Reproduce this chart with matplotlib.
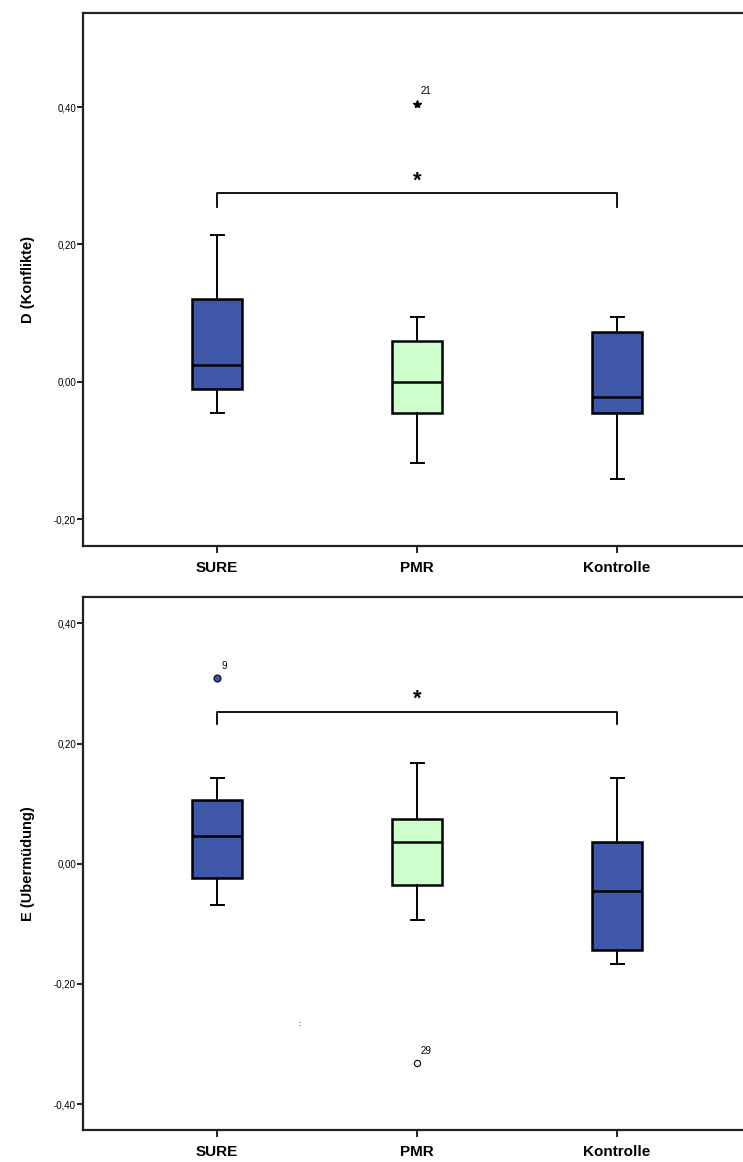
"""
Boxplots D (Konflikte) und E (Übermüdung) für SURE / PMR / Kontrolle.
"""
import matplotlib
matplotlib.use("Agg")
import matplotlib.pyplot as plt
from matplotlib.ticker import FuncFormatter

plt.rcParams.update({"font.family": ["Liberation Sans", "DejaVu Sans"]})

groups = ["SURE", "PMR", "Kontrolle"]
colors = ["#3F57A8", "#CCFFCC", "#3F57A8"]

# Panel D (Konflikte): whislo, q1, med, q3, whishi
d_low = [-0.046, -0.118, -0.142]
d_q1 = [-0.011, -0.046, -0.046]
d_med = [0.024, 0.000, -0.022]
d_q3 = [0.121, 0.060, 0.072]
d_high = [0.214, 0.094, 0.094]
d_out_x = [2]
d_out_y = [0.404]
d_out_lab = ["21"]

# Panel E (Übermüdung)
e_low = [-0.069, -0.093, -0.166]
e_q1 = [-0.023, -0.036, -0.143]
e_med = [0.047, 0.037, -0.046]
e_q3 = [0.107, 0.074, 0.037]
e_high = [0.143, 0.167, 0.143]
e_out_x = [1, 2]
e_out_y = [0.309, -0.332]
e_out_lab = ["9", "29"]

fig = plt.figure(figsize=(7.43, 11.62), dpi=100)
W = 743 / 100
H = 1162 / 100


def px_axes(left, top, right, bottom):
    return fig.add_axes([left / 743, 1 - bottom / 1162, (right - left) / 743, (bottom - top) / 1162])


def panel(ax, low, q1, med, q3, high, ylim, yticks, ylabel, bracket):
    stats = [dict(whislo=low[i], q1=q1[i], med=med[i], q3=q3[i], whishi=high[i], fliers=[])
             for i in range(3)]
    bp = ax.bxp(stats, positions=[1, 2, 3], widths=0.25, capwidths=0.065, patch_artist=True,
                showfliers=False,
                boxprops=dict(linewidth=1.8, edgecolor="black"),
                medianprops=dict(color="black", linewidth=1.8),
                whiskerprops=dict(color="black", linewidth=1.4),
                capprops=dict(color="black", linewidth=1.4))
    for patch, c in zip(bp["boxes"], colors):
        patch.set_facecolor(c)
    ax.set_xlim(0.33, 3.67)
    ax.set_ylim(*ylim)
    ax.set_yticks(yticks)
    ax.yaxis.set_major_formatter(FuncFormatter(lambda v, p: f"{v:.2f}".replace(".", ",")))
    ax.set_xticks([1, 2, 3])
    ax.set_xticklabels(groups, fontsize=11, fontweight="bold")
    ax.tick_params(axis="y", labelsize=7, length=4, width=1.2, pad=1)
    ax.tick_params(axis="x", length=5, width=1.2, pad=6)
    for s in ax.spines.values():
        s.set_linewidth(1.6)
        s.set_color("#222222")
    ax.set_ylabel(ylabel, fontsize=10.5, fontweight="bold", labelpad=14)
    y0, y1, ys = bracket
    ax.plot([1, 1, 3, 3], [y0, y1, y1, y0], color="black", lw=1.3)
    ax.text(2, ys, "*", ha="center", va="center", fontsize=16, fontweight="bold")


ax1 = px_axes(83, 13, 751, 546)
panel(ax1, d_low, d_q1, d_med, d_q3, d_high, (-0.239, 0.537), [-0.2, 0.0, 0.2, 0.4],
      "D (Konflikte)", (0.254, 0.275, 0.292))
ax1.plot(d_out_x, d_out_y, marker="*", ms=6, color="black", ls="none")
for x, y, t in zip(d_out_x, d_out_y, d_out_lab):
    ax1.text(x + 0.02, y + 0.012, t, fontsize=7, ha="left", va="bottom")

ax2 = px_axes(83, 597, 751, 1130)
panel(ax2, e_low, e_q1, e_med, e_q3, e_high, (-0.443, 0.444), [-0.4, -0.2, 0.0, 0.2, 0.4],
      "E (Ubermüdung)", (0.232, 0.253, 0.274))
ax2.plot(e_out_x[0], e_out_y[0], marker="o", ms=5, mfc="#3F57A8", mec="black", mew=0.8, ls="none")
ax2.plot(e_out_x[1], e_out_y[1], marker="o", ms=4.5, mfc="white", mec="black", mew=0.8, ls="none")
for x, y, t in zip(e_out_x, e_out_y, e_out_lab):
    ax2.text(x + 0.02, y + 0.012, t, fontsize=7, ha="left", va="bottom")
ax2.text(1.41, -0.268, ":", fontsize=6, ha="center", va="center")

fig.savefig("out.png", dpi=100)
